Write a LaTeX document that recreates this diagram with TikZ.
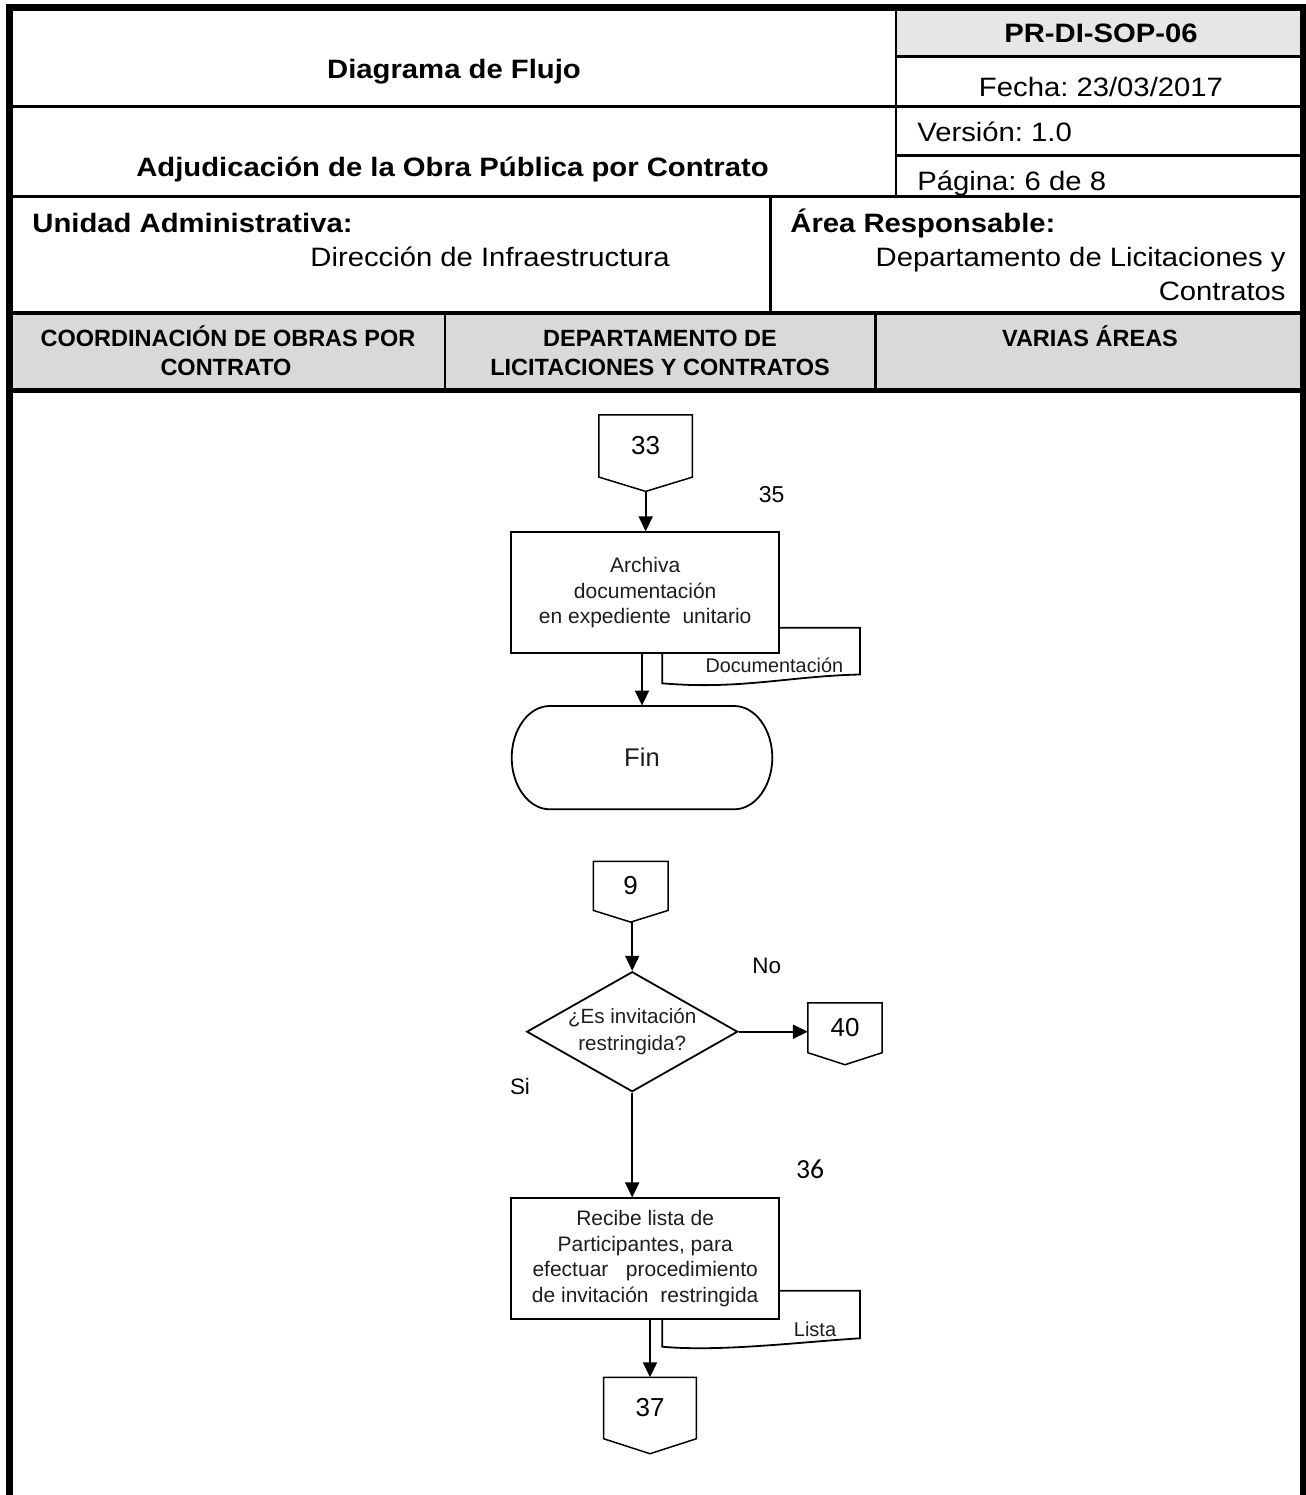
\documentclass[tikz,border=0pt]{standalone}
\usepackage{fontspec}
\setmainfont{Liberation Sans}
\newfontfamily\hdrfont{Liberation Sans}[FakeStretch=1.1]
\newfontfamily\calfont{Carlito}
\usetikzlibrary{arrows.meta,calc,shapes.geometric}
\definecolor{rowgray}{HTML}{D9D9D9}
\definecolor{codegray}{HTML}{E6E6E6}
\definecolor{txt}{HTML}{1E1E1E}
\frenchspacing

\newcommand{\offpage}[7]{%
  \node[offp, minimum width=#4*0.5pt, minimum height=#5*0.5pt] (#1) at (#2,#3) {#6};
  \coordinate (#1-tip) at ($(#1.south)+(0,#7)$);
  \draw[offline] (#1.north west) -- (#1.north east) -- (#1.south east) -- (#1-tip) -- (#1.south west) -- cycle;
}

\begin{document}
\begin{tikzpicture}[x=0.5pt, y=-0.5pt,
  hdr/.style={font=\hdrfont\fontsize{13.3}{16}\selectfont, inner sep=0pt, anchor=base},
  hdrb/.style={font=\hdrfont\bfseries\fontsize{13.3}{16}\selectfont, inner sep=0pt, anchor=base},
  colh/.style={font=\bfseries\fontsize{11.75}{14}\selectfont, inner sep=0pt, anchor=base},
  thin/.style={line width=1.2pt},
  mid/.style={line width=1.5pt},
  boxline/.style={line width=0.9pt, draw=black},
  offline/.style={line width=0.75pt, draw=black},
  offp/.style={inner sep=0pt, font=\fontsize{13}{14}\selectfont},
  proc/.style={boxline, fill=white, inner sep=0pt, align=center, text=txt,
     minimum width=268.3*0.5pt, minimum height=121*0.5pt, font=\fontsize{10.5}{12.8}\selectfont},
  arr/.style={line width=0.8pt, -{Triangle[length=7.5pt,width=7pt]}},
  lbl/.style={inner sep=0pt, font=\fontsize{11.2}{13}\selectfont}
]
\useasboundingbox (0,0) rectangle (1306,1495);

% ---------- header fills ----------
\fill[codegray] (896,7) rectangle (1303,56.5);
\fill[rowgray] (9.5,313) rectangle (1303,390.5);

% ---------- header lines ----------
\draw[thin] (896,56.5) -- (1303,56.5);
\draw[mid] (9.5,106.5) -- (1303,106.5);
\draw[thin] (896,155.5) -- (1303,155.5);
\draw[mid] (9.5,196.5) -- (1303,196.5);
\draw[thin] (896,7) -- (896,196.5);
\draw[line width=1.3pt] (770.5,196.5) -- (770.5,313);
\draw[line width=1.8pt] (9.5,313) -- (1303,313);
\draw[line width=1.3pt] (445,313) -- (445,390.5);
\draw[line width=1.3pt] (875.5,313) -- (875.5,390.5);
\draw[line width=2.5pt] (9.5,390.5) -- (1303,390.5);
\draw[line width=3.25pt] (9.5,1500) -- (9.5,7.3) -- (1303,7.3) -- (1303,1500);

% ---------- header texts ----------
\node[hdrb] (code) at (1101,42.7) {PR-DI-SOP-06};
\node[hdrb] (title1) at (454,78.3) {Diagrama de Flujo};
\node[hdr] (fecha) at (1101,96.7) {Fecha: 23/03/2017};
\node[hdr, anchor=base west] (version) at (917,141.7) {Versión: 1.0};
\node[hdrb] (title2) at (452.5,176.7) {Adjudicación de la Obra Pública por Contrato};
\node[hdr, anchor=base west] (pagina) at (917,190) {Página: 6 de 8};
\node[hdrb, anchor=base west] (unidad) at (32,232.7) {Unidad Administrativa:};
\node[hdr, anchor=base west] (direccion) at (310,266.7) {Dirección de Infraestructura};
\node[hdrb, anchor=base west] (area) at (790,232.7) {Área Responsable:};
\node[hdr, anchor=base east] (depto1) at (1286,266.7) {Departamento de Licitaciones y};
\node[hdr, anchor=base east] (depto2) at (1286,300) {Contratos};

\node[colh] (ch1a) at (228,346.7) {COORDINACIÓN DE OBRAS POR};
\node[colh] (ch1b) at (226,375) {CONTRATO};
\node[colh] (ch2a) at (660,346.7) {DEPARTAMENTO DE};
\node[colh] (ch2b) at (660,375) {LICITACIONES Y CONTRATOS};
\node[colh] (ch3) at (1090,346.7) {VARIAS ÁREAS};

% ---------- first flow ----------
\offpage{c33}{645.7}{446}{92.7}{61.4}{33}{14.3}
\node[inner sep=0pt, font=\fontsize{11.5}{13}\selectfont] (n35) at (771.7,495) {35};

\draw[boxline, fill=white] (662.3,627.7) -- (860,627.7) -- (860,674.5)
   .. controls (790,676) and (740,690) .. (662.3,683.3) -- cycle;
\node[proc] (box1) at (645.2,592.8) {Archiva\\documentación\\en expediente\ \ unitario};
\node[inner sep=0pt, text=txt, font=\fontsize{9.9}{11}\selectfont] (doc1) at (774.3,665) {Documentación};

\node[inner sep=0pt, minimum width=260.6*0.5pt, minimum height=103.3*0.5pt, text=txt,
      font=\fontsize{12.8}{14}\selectfont] (fin) at (642,757.65) {Fin};
\draw[boxline] (549.7,706) -- (734.3,706)
   .. controls (755,706) and (772.3,729.12) .. (772.3,757.65)
   .. controls (772.3,786.18) and (755,809.3) .. (734.3,809.3)
   -- (549.7,809.3)
   .. controls (529,809.3) and (511.7,786.18) .. (511.7,757.65)
   .. controls (511.7,729.12) and (529,706) .. (549.7,706) -- cycle;

\draw[arr] (c33-tip) -- (c33-tip |- box1.north);
\draw[arr] (box1.south -| fin.north) -- (fin.north);

% ---------- second flow ----------
\offpage{c9}{630.7}{885.85}{74}{48.3}{9}{11.7}
\node[diamond, boxline, inner sep=0pt, aspect=1.76, align=center, text=txt,
      minimum width=211*0.5pt, minimum height=120*0.5pt,
      font=\fontsize{10.3}{13.35}\selectfont] (dia) at (632.2,1031.7) {¿Es invitación\\restringida?};
\offpage{c40}{845}{1027.8}{73.4}{49}{40}{12}
\node[lbl] (no) at (766.7,965.7) {No};
\node[lbl] (si) at (520,1086.7) {Si};
\node[inner sep=0pt, font=\calfont\fontsize{13.8}{15}\selectfont] (n36) at (810,1169.3) {36};

\draw[boxline, fill=white] (662.3,1290.7) -- (860,1290.7) -- (860,1338.3)
   .. controls (800,1342) and (720,1352) .. (662.3,1346.7) -- cycle;
\node[proc, minimum height=120.7*0.5pt] (box2) at (645.2,1258.7)
   {Recibe lista de\\Participantes, para\\efectuar\ \ \ procedimiento\\de invitación\ \ restringida};
\node[inner sep=0pt, text=txt, font=\fontsize{10}{11}\selectfont] (doc2) at (815,1329) {Lista};

\offpage{c37}{650}{1408}{92}{60.6}{37}{15}

\draw[arr] (dia.north |- c9-tip) -- (dia.north);
\draw[arr] (dia.east) -- (dia.east -| c40.west);
\draw[arr] (dia.south) -- (dia.south |- box2.north);
\draw[arr] (box2.south -| c37.north) -- (c37.north);
\end{tikzpicture}
\end{document}
